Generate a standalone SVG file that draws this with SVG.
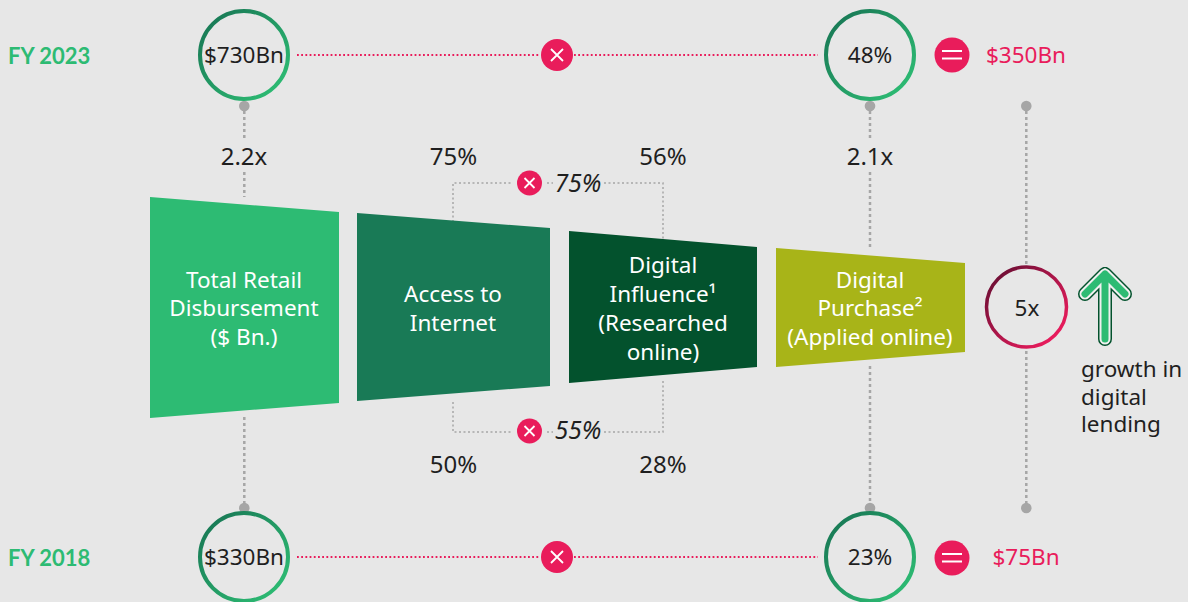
<svg xmlns="http://www.w3.org/2000/svg" width="1188" height="602" viewBox="0 0 1188 602">
<style>
text{font-family:"Noto Sans","Open Sans","Liberation Sans",sans-serif;fill:#1f1f1f;font-size:22.500px;text-anchor:middle}
.fy{font-family:Lato,"Noto Sans",sans-serif;font-weight:700;fill:#2dbb73;font-size:22px;text-anchor:start}
.w{fill:#fff}
.p{fill:#e91c5b}
.big{font-size:24px}
.i{font-style:italic;font-size:24.500px}
.l{text-anchor:start}
.ring{fill:none;stroke:url(#gr);stroke-width:4}
.pink{stroke:#e91c5b;stroke-width:1.800;stroke-dasharray:1.800 2.400;fill:none}
.gl{stroke:#a6a6a6;stroke-width:2.500;stroke-dasharray:3 3;fill:none}
.gs{stroke:#a6a6a6;stroke-width:1.500;stroke-dasharray:2 2.500;fill:none}
.dot{fill:#a6a6a6}
.badge{fill:#e91c5b}
.sym{stroke:#fff;stroke-width:1.800;fill:none}
</style>
<defs>
<linearGradient id="gr" x1="0.1" y1="0.1" x2="0.9" y2="0.9"><stop offset="0" stop-color="#197a56"/><stop offset="1" stop-color="#2dbb73"/></linearGradient>
<linearGradient id="gp" x1="0.1" y1="0.1" x2="0.9" y2="0.9"><stop offset="0" stop-color="#6e0f35"/><stop offset="1" stop-color="#ee1c5e"/></linearGradient>
</defs>
<rect width="1188" height="602" fill="#e7e7e7"/>
<g id="connectors">
<path class="pink" d="M297 55H540M574 55H818M297 557H540M574 557H818"/>
<path class="gl" d="M244.300 111V139M244.300 172V197M244.300 417V506M870 111V139M870 172V250M870 366V506M1026.300 111V264M1026.300 351V506"/>
<path class="gs" d="M453 222V183H513M547 183H553M604 183H663V240M453 402V432H513M547 432H553M604 432H663V380"/>
<circle class="dot" cx="244.300" cy="106" r="5.300"/><circle class="dot" cx="870" cy="106" r="5.300"/><circle class="dot" cx="1026.300" cy="106" r="5.300"/>
<circle class="dot" cx="244.300" cy="508" r="5.300"/><circle class="dot" cx="870" cy="508" r="5.300"/><circle class="dot" cx="1026.300" cy="508" r="5.300"/>
</g>
<g id="fy2023-label"><text class="fy" x="8" y="64">FY 2023</text></g>
<g id="fy2018-label"><text class="fy" x="8" y="566">FY 2018</text></g>
<g id="total-2023"><circle class="ring" cx="244" cy="55" r="44"/><text x="244" y="63">$730Bn</text></g>
<g id="pct-2023"><circle class="ring" cx="870" cy="55" r="44"/><text x="870" y="63">48%</text></g>
<g id="total-2018"><circle class="ring" cx="244" cy="557" r="44"/><text x="244" y="565">$330Bn</text></g>
<g id="pct-2018"><circle class="ring" cx="870" cy="557" r="44"/><text x="870" y="565">23%</text></g>
<g id="times-2023"><circle class="badge" cx="557" cy="55" r="16"/><path class="sym" d="M551 49L563 61M563 49L551 61"/></g>
<g id="times-2018"><circle class="badge" cx="557" cy="557" r="16"/><path class="sym" d="M551 551L563 563M563 551L551 563"/></g>
<g id="eq-2023"><circle class="badge" cx="952" cy="55" r="17.500"/><path class="sym" d="M942 51H962M942 58.500H962"/></g>
<g id="eq-2018"><circle class="badge" cx="952" cy="558" r="17.500"/><path class="sym" d="M942 554H962M942 561.500H962"/></g>
<g id="result-2023"><text class="p" x="1026" y="63">$350Bn</text></g>
<g id="result-2018"><text class="p" x="1026" y="565">$75Bn</text></g>
<g id="mult-left"><text class="big" x="244" y="165">2.2x</text></g>
<g id="mult-right"><text class="big" x="870" y="165">2.1x</text></g>
<g id="stage-total"><path fill="#2dbb73" d="M150 197L339 212V403L150 418Z"/><text class="w" x="244" y="288">Total Retail</text><text class="w" x="244" y="316">Disbursement</text><text class="w" x="244" y="345">($ Bn.)</text></g>
<g id="stage-internet"><path fill="#197a56" d="M357 213L550 228V386L357 401Z"/><text class="w" x="453" y="302">Access to</text><text class="w" x="453" y="331">Internet</text></g>
<g id="stage-influence"><path fill="#03522d" d="M569 231L757 247V367L569 383Z"/><text class="w" x="663" y="273">Digital</text><text class="w" x="663" y="302">Influence¹</text><text class="w" x="663" y="331">(Researched</text><text class="w" x="663" y="360">online)</text></g>
<g id="stage-purchase"><path fill="#a8b418" d="M776 248L965 263V352L776 367Z"/><text class="w" x="870" y="288">Digital</text><text class="w" x="870" y="316">Purchase²</text><text class="w" x="870" y="345">(Applied online)</text></g>
<g id="top-factors"><text class="big" x="453.500" y="165">75%</text><text class="big" x="663" y="165">56%</text><circle class="badge" cx="529.500" cy="183" r="12.500"/><path class="sym" d="M524.500 178L534.500 188M534.500 178L524.500 188"/><text class="i" x="578" y="192">75%</text></g>
<g id="bottom-factors"><text class="big" x="453.500" y="473">50%</text><text class="big" x="663" y="473">28%</text><circle class="badge" cx="529.500" cy="431" r="12.500"/><path class="sym" d="M524.500 426L534.500 436M534.500 426L524.500 436"/><text class="i" x="578" y="439">55%</text></g>
<g id="growth-5x"><circle cx="1026.500" cy="307" r="40" fill="none" stroke="url(#gp)" stroke-width="3.500"/><text x="1027" y="316">5x</text></g>
<g id="growth-arrow" fill="none" stroke-linecap="round" stroke-linejoin="round">
<path d="M1105 339V274M1085 294L1105 274L1125 294" stroke="#03522d" stroke-width="14"/>
<path d="M1105 339V274M1085 294L1105 274L1125 294" stroke="#f0f0f0" stroke-width="11"/>
<path d="M1105 339V274M1085 294L1105 274L1125 294" stroke="#2dbb73" stroke-width="7"/>
</g>
<g id="growth-label"><text class="l" x="1081" y="377">growth in</text><text class="l" x="1081" y="405">digital</text><text class="l" x="1081" y="432">lending</text></g>
</svg>
